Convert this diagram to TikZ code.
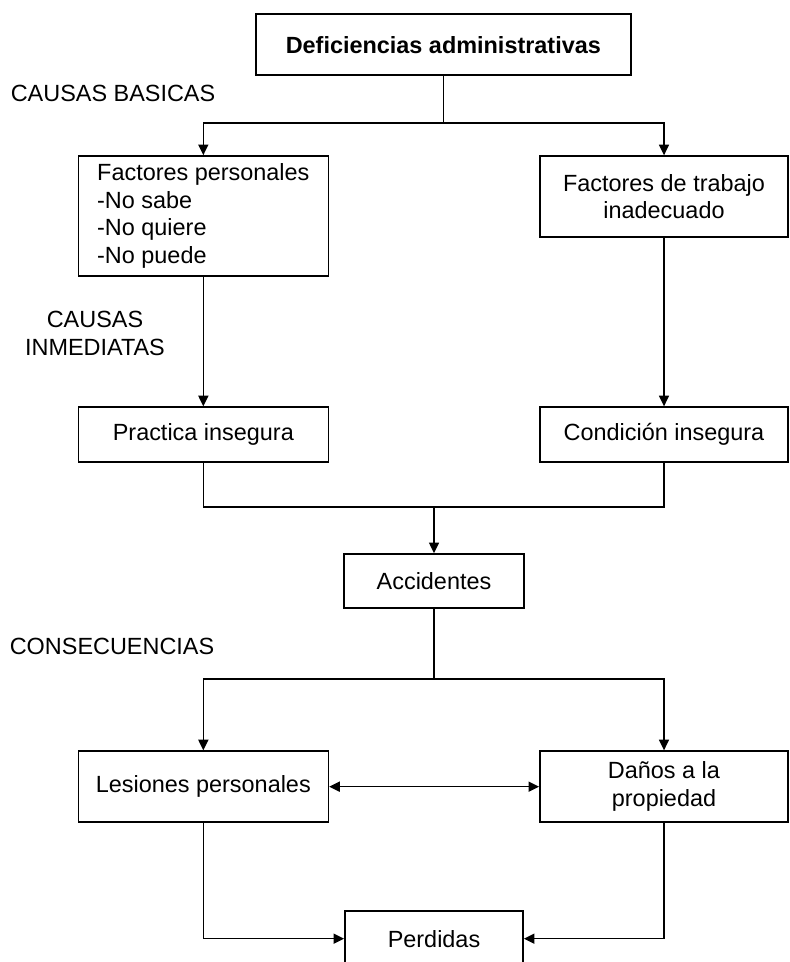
\documentclass[tikz,border=0pt]{standalone}
\usepackage{fontspec}
\setmainfont{Liberation Sans}
\usepackage{tikz}
\usetikzlibrary{arrows.meta,positioning,calc}

\begin{document}
\begin{tikzpicture}[font=\fontsize{20}{23.5}\selectfont,line width=1.4pt,
  box/.style={draw,align=center,inner sep=3pt,fill=white},
  lbl/.style={align=center,inner sep=0pt},
  arr/.style={-{Triangle[length=3.2mm,width=3mm]}},
  arrboth/.style={{Triangle[length=3.2mm,width=3mm]}-{Triangle[length=3.2mm,width=3mm]}}]
\useasboundingbox (0,0) rectangle (23.7,-28.86);
\node[box,minimum width=11.25cm,minimum height=1.83cm] (defic) at (13.3,-1.34)
  {\textbf{Deficiencias administrativas}};
\node[lbl,anchor=west] (basicas) at (0.3,-2.79) {CAUSAS BASICAS};
\node[box,minimum width=7.5cm,minimum height=3.6cm,align=left] (fpers) at (6.1,-6.48)
  {Factores personales\\-No sabe\\-No quiere\\-No puede};
\node[box,minimum width=7.44cm,minimum height=2.43cm] (ftrab) at (19.92,-5.9)
  {Factores de trabajo\\inadecuado};
\node[lbl] (inmed) at (2.85,-10.0) {CAUSAS\\INMEDIATAS};
\node[box,minimum width=7.5cm,minimum height=1.65cm] (pract) at (6.1,-13.04) {Practica insegura};
\node[box,minimum width=7.44cm,minimum height=1.65cm] (cond) at (19.92,-13.04) {Condición insegura};
\node[box,minimum width=5.4cm,minimum height=1.62cm] (accid) at (13.02,-17.43) {Accidentes};
\node[lbl,anchor=west] (consec) at (0.27,-19.38) {CONSECUENCIAS};
\node[box,minimum width=7.5cm,minimum height=2.13cm] (lesion) at (6.1,-23.6) {Lesiones personales};
\node[box,minimum width=7.44cm,minimum height=2.13cm] (danos) at (19.92,-23.6) {Daños a la\\propiedad};
\node[box,minimum width=5.34cm,minimum height=1.65cm] (perd) at (13.02,-28.16) {Perdidas};
% junctions
\coordinate (split1) at (13.3,-3.69);
\coordinate (merge) at (13.02,-15.21);
\coordinate (split2) at (13.02,-20.37);
\draw (defic.south) -- (split1);
\draw[arr] (split1) -| (fpers.north);
\draw[arr] (split1) -| (ftrab.north);
\draw[arr] (fpers.south) -- (pract.north);
\draw[arr] (ftrab.south) -- (cond.north);
\draw (pract.south) |- (merge);
\draw (cond.south) |- (merge);
\draw[arr] (merge) -- (accid.north);
\draw (accid.south) -- (split2);
\draw[arr] (split2) -| (lesion.north);
\draw[arr] (split2) -| (danos.north);
\draw[arrboth] (lesion.east) -- (danos.west);
\draw[arr] (lesion.south) |- (perd.west);
\draw[arr] (danos.south) |- (perd.east);
\end{tikzpicture}
\end{document}
